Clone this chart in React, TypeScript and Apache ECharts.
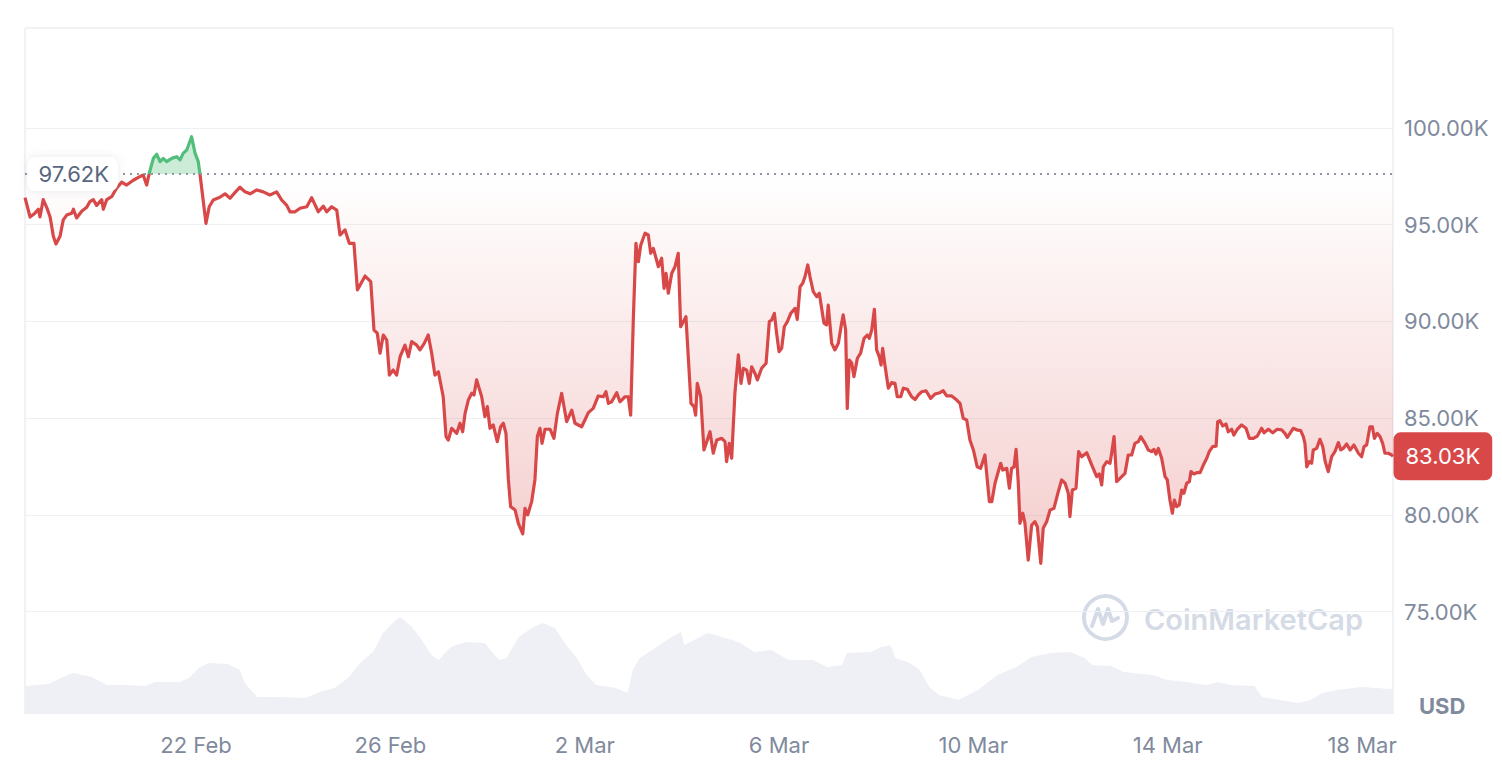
import { useEffect, useRef, useState } from 'react';
import * as echarts from 'echarts';

// ---- time base ----
const START_UTC = Date.UTC(2025, 1, 18, 11, 30);
const END_HOURS = 675.8;
const HOUR_MS = 3600 * 1000;

// ---- reference values ----
const OPEN_PRICE_K = 97.62;
const LAST_PRICE_K = 83.03;

// ---- axis ticks ----
const X_TICK_DATES = ['2025-02-22', '2025-02-26', '2025-03-02', '2025-03-06', '2025-03-10', '2025-03-14', '2025-03-18'];
const MONTHS = ['Jan', 'Feb', 'Mar', 'Apr', 'May', 'Jun', 'Jul', 'Aug', 'Sep', 'Oct', 'Nov', 'Dec'];
const Y_MIN = 70;
const Y_MAX = 105;
const Y_STEP = 5;

// ---- price (hours since start, price in K USD) ----
const priceHours = [
  0, 2.5, 4.9, 6.6, 7.4, 9.0, 10.7, 12.4, 14.0, 15.3, 17.3, 18.9, 20.6, 23.1, 23.9, 25.5, 28.0, 30.5, 32.1, 33.7,
  35.4, 37.9, 38.7, 40.4, 42.8, 45.3, 47.8, 50.2, 53.5, 56.0, 58.4, 60.1, 61.4, 63.4, 65.1, 66.7, 68.3, 70.0, 72.5, 74.9,
  76.6, 78.2, 79.9, 82.3, 84.0, 85.6, 86.5, 87.8, 89.4, 91.0, 93.0, 96.3, 98.8, 101.3, 103.7, 106.2, 108.7, 111.2, 114.5, 117.7,
  121.0, 124.3, 126.8, 129.3, 130.9, 133.4, 135.9, 139.2, 141.6, 144.9, 147.4, 149.0, 151.5, 154.0, 155.6, 158.1, 160.2, 162.5, 164.2, 168.0,
  170.8, 172.4, 174.0, 175.4, 177.0, 178.7, 180.0, 181.9, 183.6, 185.3, 187.7, 189.4, 191.0, 193.5, 195.1, 197.1, 199.2, 200.9, 202.5, 204.2,
  206.6, 208.0, 209.1, 210.8, 213.3, 214.9, 216.2, 217.4, 219.0, 220.7, 221.8, 223.1, 225.6, 227.2, 228.4, 229.7, 231.3, 233.3, 235.0, 236.3,
  237.6, 238.8, 239.9, 242.1, 243.7, 245.9, 247.0, 248.3, 250.3, 251.9, 253.1, 254.4, 255.4, 256.9, 259.4, 261.3, 263.0, 265.1, 267.6, 270.1,
  271.7, 275.0, 276.6, 278.3, 280.7, 283.2, 285.7, 287.0, 288.2, 289.8, 292.3, 293.9, 296.4, 298.0, 299.2, 300.5, 301.8, 303.0, 304.2, 306.3,
  307.9, 309.1, 310.4, 312.9, 314.5, 315.7, 316.7, 317.8, 319.5, 321.1, 322.7, 323.9, 326.5, 329.0, 330.5, 331.3, 332.1, 333.8, 335.4, 336.8,
  338.4, 340.0, 341.7, 344.2, 345.8, 346.6, 347.9, 349.1, 350.7, 352.4, 353.7, 354.9, 356.5, 357.8, 359.0, 360.6, 361.8, 363.9, 366.1, 367.7,
  368.9, 370.2, 371.3, 372.5, 373.8, 375.1, 376.6, 378.3, 380.4, 381.5, 382.9, 384.2, 385.3, 386.7, 387.8, 389.4, 391.1, 392.4, 393.4, 394.7,
  396.0, 396.8, 398.5, 400.1, 401.8, 403.4, 404.2, 405.4, 406.2, 407.2, 408.4, 409.5, 411.2, 412.8, 414.5, 416.1, 417.1, 418.3, 419.6, 420.7,
  422.0, 422.9, 423.7, 424.8, 426.5, 428.1, 429.8, 430.9, 432.6, 433.9, 435.9, 438.0, 439.7, 441.3, 443.0, 445.1, 447.4, 449.5, 452.0, 453.6,
  455.3, 457.8, 460.3, 461.9, 463.5, 465.2, 466.8, 468.5, 470.4, 472.1, 474.2, 476.4, 477.6, 479.2, 480.8, 482.0, 483.0, 485.0, 486.3, 487.4,
  488.6, 489.6, 490.7, 491.5, 492.9, 494.0, 495.6, 497.3, 498.9, 500.1, 501.8, 503.0, 504.7, 506.4, 508.3, 510.0, 512.1, 513.8, 515.4, 516.2,
  517.4, 519.2, 520.5, 522.0, 524.5, 527.0, 529.4, 530.7, 531.9, 532.7, 534.4, 536.0, 536.8, 538.0, 539.3, 541.8, 543.4, 545.0, 546.7, 548.3,
  550.0, 551.2, 553.3, 554.9, 556.6, 557.7, 558.7, 559.9, 561.5, 563.2, 564.3, 565.6, 566.8, 567.8, 568.9, 570.2, 571.4, 572.5, 573.9, 575.2,
  576.0, 577.5, 579.1, 580.5, 582.1, 583.8, 585.0, 586.7, 588.4, 589.2, 590.3, 591.7, 593.3, 594.4, 596.1, 597.2, 598.9, 601.0, 603.2, 604.8,
  606.8, 608.8, 610.9, 612.1, 614.2, 616.4, 618.6, 620.8, 622.4, 623.6, 624.9, 626.5, 628.2, 630.2, 631.5, 632.3, 633.2, 634.5, 635.6, 636.4,
  638.1, 639.7, 641.1, 642.3, 643.8, 645.5, 647.1, 648.8, 650.0, 651.2, 652.9, 654.6, 656.5, 658.7, 660.3, 661.5, 662.8, 664.4, 665.6, 666.6,
  668.0, 669.4, 670.7, 671.8, 673.5, 675.2, 675.8
];
const priceK = [
  96.4, 95.4, 95.6, 95.8, 95.4, 96.3, 95.9, 95.4, 94.4, 94.0, 94.4, 95.25, 95.5, 95.6, 95.8, 95.35, 95.7, 95.9, 96.2, 96.3,
  96.0, 96.3, 95.8, 96.3, 96.45, 96.9, 97.2, 97.05, 97.3, 97.45, 97.57, 97.05, 97.66, 98.43, 98.64, 98.26, 98.43, 98.26, 98.43, 98.52,
  98.35, 98.7, 98.86, 99.55, 98.7, 98.26, 97.57, 96.45, 95.07, 95.93, 96.28, 96.42, 96.6, 96.37, 96.66, 96.94, 96.7, 96.6, 96.8, 96.7,
  96.54, 96.7, 96.28, 96.0, 95.67, 95.67, 95.85, 95.93, 96.4, 95.67, 95.96, 95.67, 95.93, 95.76, 94.47, 94.73, 94.04, 94.04, 91.63, 92.35,
  92.06, 89.56, 89.4, 88.36, 89.3, 89.04, 87.23, 87.49, 87.23, 88.18, 88.78, 88.18, 88.96, 88.78, 88.53, 88.84, 89.3, 88.36, 87.23, 87.4,
  86.11, 84.05, 83.87, 84.48, 84.22, 84.74, 84.3, 85.25, 85.94, 86.29, 86.2, 86.98, 86.11, 85.08, 85.6, 84.48, 84.65, 83.79, 84.56, 84.74,
  84.22, 81.81, 80.43, 80.26, 79.57, 79.02, 80.34, 80.0, 80.69, 81.81, 84.05, 84.48, 83.7, 84.43, 84.43, 83.96, 85.25, 86.29, 84.82, 85.42,
  84.74, 84.56, 84.91, 85.29, 85.51, 86.15, 86.11, 86.37, 85.77, 85.85, 86.32, 85.85, 86.11, 86.11, 85.16, 90.08, 94.04, 93.09, 93.95, 94.56,
  94.47, 93.52, 93.78, 92.83, 93.27, 91.71, 92.49, 91.46, 92.49, 92.83, 93.52, 89.73, 90.25, 85.77, 85.6, 85.16, 86.8, 86.11, 83.36, 83.79,
  84.3, 83.19, 83.87, 83.96, 83.79, 82.76, 83.7, 82.93, 86.29, 88.27, 86.8, 87.58, 87.49, 86.8, 87.66, 87.32, 86.98, 87.58, 87.84, 89.99,
  90.08, 90.42, 89.39, 88.44, 88.61, 89.73, 89.99, 90.42, 90.68, 90.11, 91.8, 91.97, 92.31, 92.92, 92.31, 91.54, 91.28, 91.46, 90.77, 89.91,
  89.82, 90.85, 88.87, 88.53, 88.87, 89.91, 90.34, 89.56, 85.51, 88.01, 87.84, 87.15, 88.1, 88.36, 89.13, 89.3, 89.13, 89.56, 90.63, 88.53,
  88.18, 87.75, 88.61, 87.75, 86.55, 86.84, 86.8, 86.11, 86.11, 86.55, 86.49, 86.11, 85.97, 86.2, 86.37, 86.42, 86.03, 86.25, 86.32, 86.42,
  86.15, 86.15, 85.94, 85.77, 84.99, 84.91, 83.87, 83.36, 82.49, 82.41, 83.1, 80.69, 80.69, 81.64, 82.24, 82.67, 82.32, 82.41, 81.38, 82.41,
  82.49, 83.39, 81.64, 79.57, 80.09, 79.57, 77.67, 79.48, 79.65, 79.39, 77.5, 79.31, 79.65, 80.26, 80.34, 81.03, 81.81, 81.64, 81.12, 79.91,
  81.29, 81.38, 83.27, 83.01, 83.22, 82.58, 81.98, 82.12, 81.55, 82.49, 82.76, 82.67, 83.19, 84.05, 81.72, 81.98, 82.15, 83.1, 83.1, 83.7,
  83.79, 84.05, 83.7, 83.36, 83.27, 83.39, 83.15, 83.44, 82.93, 81.98, 81.81, 80.77, 80.09, 80.77, 80.43, 80.52, 81.29, 81.12, 81.64, 81.72,
  82.24, 82.12, 82.19, 82.19, 82.58, 82.93, 83.27, 83.53, 83.56, 84.82, 84.87, 84.6, 84.7, 84.3, 84.43, 84.13, 84.43, 84.65, 84.48, 83.96,
  83.96, 84.08, 84.48, 84.25, 84.43, 84.25, 84.43, 84.4, 84.22, 84.01, 84.22, 84.48, 84.4, 84.36, 84.05, 83.7, 82.49, 82.76, 82.67, 83.36,
  83.44, 83.91, 83.53, 82.76, 82.24, 83.01, 83.27, 83.74, 83.36, 83.44, 83.67, 83.36, 83.62, 83.19, 83.01, 83.53, 83.62, 84.56, 84.56, 83.96,
  84.22, 84.05, 83.7, 83.19, 83.19, 83.1, 83.03
];

// ---- volume (hours since start, relative volume in B USD) ----
const volumeHours = [
  0, 11.6, 18.8, 23.6, 33.1, 40.3, 49.9, 59.5, 64.2, 76.3, 81.0, 85.8, 90.6, 100.2, 106.2, 108.6, 114.6, 124.1, 138.5, 145.7,
  152.9, 160.1, 166.0, 172.0, 176.9, 181.6, 185.3, 191.2, 196.0, 200.8, 204.4, 210.3, 217.5, 227.1, 230.7, 234.3, 237.9, 243.9, 251.1, 255.9,
  261.8, 266.6, 272.6, 277.4, 282.2, 291.8, 297.7, 300.2, 303.7, 312.1, 319.3, 324.1, 325.7, 337.3, 349.3, 353.3, 360.4, 368.8, 377.2, 389.2,
  396.4, 403.6, 406.0, 417.9, 422.8, 427.6, 430.0, 437.2, 442.0, 446.7, 451.5, 461.1, 470.7, 480.3, 489.9, 497.1, 506.7, 516.2, 523.5, 527.1,
  536.7, 542.7, 557.0, 564.3, 573.8, 583.4, 589.3, 595.4, 607.4, 611.0, 617.0, 628.9, 635.0, 641.0, 648.1, 660.2, 667.4, 674.6, 675.8
];
const volumeB = [
  2.8, 3.0, 3.7, 4.1, 3.7, 2.9, 2.9, 2.8, 3.2, 3.2, 3.6, 4.6, 5.1, 5.0, 4.4, 3.1, 1.7, 1.7, 1.6, 2.2,
  2.6, 3.7, 5.2, 6.2, 8.1, 9.1, 9.7, 8.7, 7.4, 5.9, 5.4, 6.7, 7.2, 7.1, 6.2, 5.4, 5.6, 7.7, 8.7, 9.1,
  8.6, 7.1, 5.6, 3.9, 2.9, 2.6, 2.1, 4.4, 5.6, 6.7, 7.7, 8.2, 6.9, 8.1, 7.4, 7.1, 6.2, 6.4, 5.4, 5.4,
  4.7, 4.9, 6.1, 6.2, 6.7, 6.9, 5.6, 5.1, 4.4, 2.7, 1.9, 1.4, 2.4, 3.9, 4.7, 5.7, 6.1, 6.2, 5.6, 4.9,
  4.8, 4.2, 3.9, 3.4, 3.2, 2.9, 3.2, 2.9, 2.8, 1.7, 1.5, 1.1, 1.4, 2.1, 2.4, 2.7, 2.6, 2.5, 2.5
];

const RED = '#d94848';
const GREEN = '#52be7b';
const LABEL_GRAY = '#808a9d';
const WATERMARK = '#d5dbe6';
const FONT_SIZE = 22;

export default function App() {
  const ref = useRef<HTMLDivElement>(null);
  const [err, setErr] = useState('');

  useEffect(() => {
    if (!ref.current) return;
    const chart = echarts.init(ref.current, null, { renderer: 'svg' });

    const priceData = priceHours.map((h, i) => [h, priceK[i]]);
    const volumeData = volumeHours.map((h, i) => [h, volumeB[i]]);
    const xTickData = X_TICK_DATES.map((d) => [(Date.parse(d) - START_UTC) / HOUR_MS, 0]);
    const fmtDate = (h: number) => {
      const d = new Date(START_UTC + h * HOUR_MS + 60000);
      return d.getUTCDate() + ' ' + MONTHS[d.getUTCMonth()];
    };

    // pixel row of the opening price on the price grid (grid top 31.26, height 677.18 for 70..105)
    const openY = 31.26 + ((Y_MAX - OPEN_PRICE_K) / (Y_MAX - Y_MIN)) * 677.18;
    const splitOff = openY / 714;

    const areaGradient = new echarts.graphic.LinearGradient(
      0, 0, 0, 714,
      [
        { offset: 0, color: 'rgba(82,190,123,0.3)' },
        { offset: splitOff - 0.0001, color: 'rgba(82,190,123,0.3)' },
        { offset: splitOff, color: 'rgba(217,72,72,0.0)' },
        { offset: 0.8, color: 'rgba(217,72,72,0.28)' },
        { offset: 1, color: 'rgba(217,72,72,0.3)' }
      ],
      true
    );
    const lineGradient = new echarts.graphic.LinearGradient(
      0, 0, 0, 714,
      [
        { offset: 0, color: GREEN },
        { offset: splitOff - 0.0001, color: GREEN },
        { offset: splitOff, color: RED },
        { offset: 1, color: RED }
      ],
      true
    );

    const option: any = {
      animation: false,
      textStyle: { fontFamily: 'Inter' },
      grid: [
        { left: 25, right: 109, top: 31.26, bottom: 65.56 },
        { left: 25, right: 109, top: 614, bottom: 60 }
      ],
      xAxis: [
        { type: 'value', gridIndex: 0, min: 0, max: END_HOURS, show: false },
        { type: 'value', gridIndex: 1, min: 0, max: END_HOURS, show: false }
      ],
      yAxis: [
        {
          type: 'value',
          gridIndex: 0,
          position: 'right',
          min: Y_MIN,
          max: Y_MAX,
          interval: Y_STEP,
          axisLine: { show: false },
          axisTick: { show: false },
          splitLine: { show: true, showMinLine: false, showMaxLine: false, lineStyle: { color: '#eef0f3', width: 1 } },
          axisLabel: {
            color: LABEL_GRAY,
            fontSize: FONT_SIZE,
            margin: 11,
            formatter: (v: number) => (v <= Y_MIN || v >= Y_MAX ? '' : v.toFixed(2) + 'K')
          }
        },
        { type: 'value', gridIndex: 1, min: 0, max: 10, show: false }
      ],
      series: [
        {
          type: 'line',
          name: 'Volume',
          xAxisIndex: 1,
          yAxisIndex: 1,
          data: volumeData,
          showSymbol: false,
          silent: true,
          lineStyle: { width: 0 },
          itemStyle: { color: '#eef0f5' },
          areaStyle: { color: '#eff0f5', opacity: 1 },
          z: 1
        },
        {
          type: 'line',
          name: 'Price',
          xAxisIndex: 0,
          yAxisIndex: 0,
          data: priceData,
          showSymbol: false,
          itemStyle: { color: RED },
          lineStyle: { width: 3.2, join: 'round', color: lineGradient },
          areaStyle: { origin: OPEN_PRICE_K, color: areaGradient, opacity: 1 },
          z: 3
        },
        {
          type: 'scatter',
          name: 'Open line',
          xAxisIndex: 0,
          yAxisIndex: 0,
          data: [],
          silent: true,
          markLine: {
            silent: true,
            symbol: ['none', 'none'],
            label: { show: false },
            lineStyle: { color: '#8f96a4', width: 2, type: [2, 5], opacity: 1 },
            data: [{ yAxis: OPEN_PRICE_K }]
          },
          z: 4
        },
        {
          type: 'scatter',
          name: 'Tags',
          xAxisIndex: 0,
          yAxisIndex: 0,
          data: [
            { value: [0, OPEN_PRICE_K], label: {
                show: true, position: 'right', distance: 2,
                formatter: OPEN_PRICE_K.toFixed(2) + 'K', color: '#58667e', fontSize: FONT_SIZE, fontFamily: 'Inter', lineHeight: 22,
                backgroundColor: '#ffffff', borderRadius: 8, padding: [6, 9, 6, 11],
                shadowBlur: 8, shadowColor: 'rgba(88,102,126,0.14)'
              } },
            { value: [END_HOURS, LAST_PRICE_K], label: {
                show: true, position: 'right', distance: 0,
                formatter: LAST_PRICE_K.toFixed(2) + 'K', color: '#ffffff', fontSize: FONT_SIZE, fontFamily: 'Inter', lineHeight: 24,
                backgroundColor: RED, borderRadius: 7, padding: [12, 12, 12, 12]
              } }
          ],
          symbolSize: 1,
          silent: true,
          clip: false,
          itemStyle: { color: 'rgba(0,0,0,0)', opacity: 1 },
          z: 6
        },
        {
          type: 'scatter',
          name: 'Dates',
          xAxisIndex: 1,
          yAxisIndex: 1,
          data: xTickData,
          symbolSize: 1,
          silent: true,
          clip: false,
          itemStyle: { color: 'rgba(0,0,0,0)', opacity: 1 },
          label: {
            show: true,
            position: 'bottom',
            distance: 19,
            color: LABEL_GRAY,
            fontSize: FONT_SIZE,
            fontFamily: 'Inter',
            formatter: (p: any) => fmtDate(p.value[0])
          },
          z: 5
        }
      ],
      graphic: [
        { type: 'line', silent: true, z: 0, shape: { x1: 25, y1: 28, x2: 1393, y2: 28 }, style: { stroke: '#eceef1', lineWidth: 1.5 } },
        { type: 'line', silent: true, z: 0, shape: { x1: 25, y1: 28, x2: 25, y2: 714 }, style: { stroke: '#eceef1', lineWidth: 1.5 } },
        { type: 'line', silent: true, z: 0, shape: { x1: 1393, y1: 28, x2: 1393, y2: 714 }, style: { stroke: '#eceef1', lineWidth: 1.5 } },
        {
          type: 'text',
          silent: true,
          x: 1419,
          y: 706,
          style: { text: 'USD', fontSize: 22, fontWeight: 'bold', fill: LABEL_GRAY, fontFamily: 'Inter', verticalAlign: 'middle' }
        },
        {
          type: 'group',
          silent: true,
          z: 2,
          children: [
            { type: 'circle', shape: { cx: 1105.5, cy: 617.5, r: 21.5 }, style: { fill: 'none', stroke: WATERMARK, lineWidth: 4 } },
            {
              type: 'polyline',
              shape: { points: [[1092, 626], [1098, 609], [1103, 624], [1108, 609], [1112, 621], [1118, 618]] },
              style: { fill: 'none', stroke: WATERMARK, lineWidth: 4, lineJoin: 'round', lineCap: 'round' }
            },
            {
              type: 'text',
              x: 1144,
              y: 619,
              style: { text: 'CoinMarketCap', fontSize: 29, fontWeight: 600, fill: WATERMARK, fontFamily: 'Inter', verticalAlign: 'middle' }
            }
          ]
        }
      ]
    };

    try {
      chart.setOption(option);
    } catch (e: any) {
      setErr(String(e && e.stack ? e.stack : e));
    }
    return () => chart.dispose();
  }, []);

  return (
    <>
      <div ref={ref} style={{ position: 'fixed', left: 0, top: 0, width: 1502, height: 774, background: '#fff' }} />
      {err ? <pre style={{ position: 'fixed', left: 10, top: 10, fontSize: 12, color: 'black', zIndex: 10 }}>{err}</pre> : null}
    </>
  );
}
